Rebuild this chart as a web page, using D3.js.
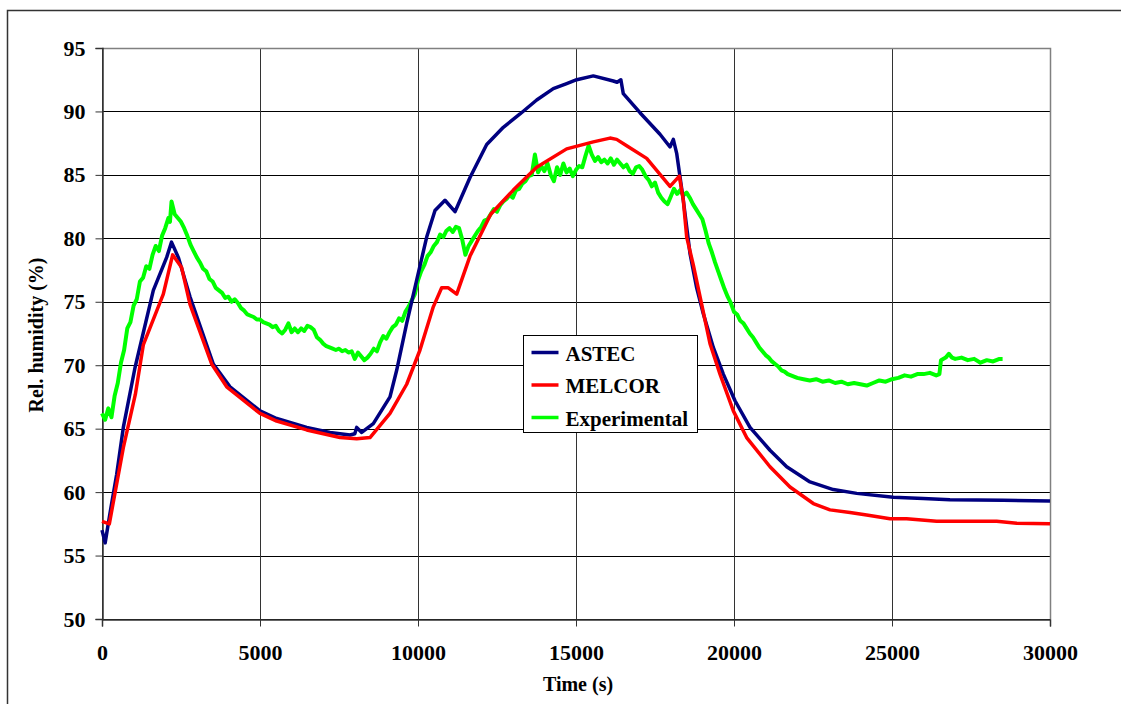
<!DOCTYPE html>
<html>
<head>
<meta charset="utf-8">
<script src="https://cdn.jsdelivr.net/npm/d3@7"></script>
<style>
  body { margin: 0; background: #fff; }
  svg { display: block; font-family: "Liberation Serif", "Times New Roman", serif; font-weight: bold; }
</style>
</head>
<body>
<div id="chart"></div>
<script>
// ASTEC
const astecTime = [0, 100, 250, 465, 675, 1044, 1624, 2046, 2200, 2415, 2785, 3522, 4051, 5000, 5528, 6478, 7215, 7848, 8000, 8060, 8218, 8586, 9114, 9325, 9642, 9958, 10275, 10538, 10854, 11171, 11646, 12174, 12700, 13228, 13756, 14282, 14705, 15022, 15548, 16180, 16300, 16420, 16497, 17025, 17658, 17975, 18080, 18186, 18396, 18608, 18819, 19029, 19345, 19662, 20032, 20506, 21139, 21667, 22405, 23143, 23883, 25041, 25991, 26835, 28522, 30000]
const astecRH = [57.0, 56.0, 58.3, 61.4, 65.1, 69.8, 75.9, 78.5, 79.7, 78.5, 75.4, 70.1, 68.3, 66.4, 65.8, 65.1, 64.7, 64.5, 64.6, 65.1, 64.7, 65.4, 67.5, 69.6, 73.3, 76.7, 80.1, 82.2, 83.0, 82.1, 84.8, 87.4, 88.75, 89.8, 90.9, 91.8, 92.2, 92.5, 92.8, 92.4, 92.3, 92.5, 91.4, 89.9, 88.2, 87.2, 87.8, 86.7, 83.0, 78.8, 76.1, 74.05, 71.4, 69.3, 67.2, 65.1, 63.3, 62.0, 60.8, 60.2, 59.9, 59.6, 59.5, 59.4, 59.35, 59.3]

// MELCOR
const melcorTime = [0, 232, 675, 1055, 1307, 1940, 2236, 2520, 2785, 3470, 3946, 5000, 5528, 6478, 7532, 8060, 8481, 9114, 9642, 10063, 10484, 10749, 10959, 11225, 11646, 12300, 13016, 13756, 14705, 15548, 16076, 16287, 16604, 17237, 17975, 18270, 18396, 18503, 18712, 18977, 19241, 19557, 19979, 20400, 21139, 21772, 22510, 23038, 23671, 24198, 24937, 25465, 26412, 28313, 28946, 30000]
const melcorRH = [57.7, 57.5, 63.5, 67.7, 71.6, 75.6, 78.7, 77.7, 74.8, 70.1, 68.3, 66.2, 65.6, 64.9, 64.3, 64.2, 64.3, 66.2, 68.5, 71.2, 74.6, 76.1, 76.1, 75.6, 78.6, 81.9, 83.8, 85.6, 87.05, 87.6, 87.9, 87.8, 87.3, 86.3, 84.1, 84.9, 83.0, 80.1, 77.9, 74.8, 71.7, 69.3, 66.4, 64.3, 62.0, 60.4, 59.1, 58.6, 58.4, 58.2, 57.9, 57.9, 57.7, 57.7, 57.55, 57.5]

// Experimental
const expTime = [0, 100, 200, 300, 400, 500, 600, 700, 800, 900, 1000, 1100, 1200, 1300, 1400, 1500, 1600, 1700, 1800, 1900, 2000, 2100, 2150, 2200, 2300, 2400, 2500, 2600, 2700, 2800, 2900, 3000, 3100, 3200, 3300, 3400, 3500, 3600, 3700, 3800, 3900, 4000, 4100, 4200, 4300, 4400, 4500, 4600, 4700, 4800, 4900, 5000, 5100, 5200, 5300, 5400, 5500, 5600, 5700, 5800, 5900, 6000, 6100, 6200, 6300, 6400, 6500, 6600, 6700, 6800, 6900, 7000, 7100, 7200, 7300, 7400, 7500, 7600, 7700, 7800, 7900, 8000, 8100, 8200, 8300, 8400, 8500, 8600, 8700, 8800, 8900, 9000, 9100, 9200, 9300, 9400, 9500, 9600, 9700, 9800, 9900, 10000, 10100, 10200, 10300, 10400, 10500, 10600, 10700, 10800, 10900, 11000, 11100, 11200, 11300, 11400, 11500, 11600, 11700, 11800, 11900, 12000, 12100, 12200, 12300, 12400, 12500, 12600, 12700, 12800, 12900, 13000, 13100, 13200, 13300, 13400, 13500, 13600, 13700, 13800, 13900, 14000, 14100, 14200, 14300, 14400, 14500, 14600, 14700, 14800, 14900, 15000, 15100, 15200, 15300, 15400, 15500, 15600, 15700, 15800, 15900, 16000, 16100, 16200, 16300, 16400, 16500, 16600, 16700, 16800, 16900, 17000, 17100, 17200, 17300, 17400, 17500, 17600, 17700, 17800, 17900, 18000, 18100, 18200, 18300, 18400, 18500, 18600, 18700, 18800, 18900, 19000, 19100, 19200, 19300, 19400, 19500, 19600, 19700, 19800, 19900, 20000, 20100, 20200, 20300, 20400, 20500, 20600, 20700, 20800, 20900, 21000, 21100, 21200, 21300, 21400, 21500, 21600, 21700, 21800, 22000, 22200, 22400, 22600, 22800, 23000, 23200, 23400, 23600, 23800, 24000, 24200, 24400, 24600, 24800, 25000, 25200, 25400, 25600, 25800, 26000, 26200, 26400, 26500, 26550, 26700, 26800, 26900, 27000, 27200, 27400, 27600, 27800, 28000, 28200, 28400, 28500]
const expRH = [66.2, 65.7, 66.6, 65.9, 67.6, 68.6, 70.2, 71.2, 72.9, 73.4, 74.7, 75.2, 76.6, 76.9, 77.8, 77.6, 78.7, 79.4, 79.0, 80.2, 80.8, 81.6, 81.3, 82.9, 81.9, 81.6, 81.3, 80.8, 80.2, 79.5, 79.0, 78.5, 78.1, 77.6, 77.4, 76.8, 76.6, 76.1, 75.9, 75.7, 75.3, 75.4, 75.0, 75.2, 74.9, 74.5, 74.3, 74.0, 73.9, 73.8, 73.6, 73.6, 73.4, 73.3, 73.2, 73.0, 73.1, 72.7, 72.5, 72.8, 73.3, 72.6, 72.9, 72.6, 72.9, 72.7, 73.1, 73.0, 72.8, 72.2, 72.0, 71.7, 71.5, 71.4, 71.3, 71.2, 71.3, 71.1, 71.2, 71.0, 71.1, 70.5, 71.0, 70.7, 70.4, 70.6, 70.9, 71.3, 71.1, 71.8, 72.3, 72.1, 72.6, 73.0, 73.2, 73.7, 73.5, 74.2, 74.6, 75.1, 75.6, 76.7, 77.4, 77.9, 78.6, 78.9, 79.4, 79.7, 80.3, 80.1, 80.6, 80.8, 80.5, 80.9, 80.8, 79.9, 78.7, 79.4, 79.8, 80.2, 80.6, 80.9, 81.4, 81.5, 81.9, 82.3, 82.1, 82.6, 82.9, 83.1, 83.4, 83.2, 83.8, 83.9, 84.3, 84.5, 84.9, 85.0, 86.6, 85.2, 85.7, 85.3, 85.9, 85.0, 84.5, 85.6, 85.0, 85.9, 85.2, 85.5, 84.9, 85.4, 85.7, 85.6, 86.5, 87.3, 86.6, 86.1, 86.4, 86.0, 86.2, 85.9, 86.3, 85.8, 86.2, 85.9, 85.6, 85.8, 85.3, 85.1, 85.6, 85.7, 85.4, 84.9, 84.6, 84.1, 84.4, 83.6, 83.2, 82.9, 82.7, 83.3, 83.9, 83.5, 83.8, 83.4, 83.6, 83.2, 82.7, 82.3, 81.9, 81.5, 80.6, 79.6, 78.9, 78.1, 77.4, 76.7, 76.0, 75.4, 74.9, 74.2, 74.0, 73.5, 73.3, 72.9, 72.5, 72.2, 71.8, 71.4, 71.1, 70.8, 70.6, 70.3, 70.1, 69.9, 69.6, 69.5, 69.3, 69.2, 69.0, 68.9, 68.8, 68.9, 68.7, 68.8, 68.6, 68.7, 68.5, 68.6, 68.5, 68.4, 68.6, 68.8, 68.7, 68.9, 69.0, 69.2, 69.1, 69.3, 69.3, 69.4, 69.2, 69.3, 70.4, 70.6, 70.9, 70.6, 70.5, 70.6, 70.4, 70.5, 70.2, 70.4, 70.3, 70.5, 70.5]

const xTicks = [0, 5000, 10000, 15000, 20000, 25000, 30000]
const yTicks = [50, 55, 60, 65, 70, 75, 80, 85, 90, 95]
const seriesNames = ['ASTEC', 'MELCOR', 'Experimental']
const seriesColors = ['#000080', '#ff0000', '#00ff00']

const width = 1121
const height = 704
const plot = {left: 102, right: 1050, top: 48, bottom: 619}

const svg = d3.select('#chart').append('svg')
  .attr('width', width)
  .attr('height', height)

// outer chart frame
svg.append('rect')
  .attr('x', 7.5).attr('y', 10.5)
  .attr('width', 1125).attr('height', 710)
  .attr('fill', 'none').attr('stroke', '#333').attr('stroke-width', 1.5)

const x = d3.scaleLinear().domain([0, 30000]).range([plot.left, plot.right])
const y = d3.scaleLinear().domain([50, 95]).range([plot.bottom, plot.top])

// grid
svg.append('g').selectAll('line').data(yTicks).enter().append('line')
  .attr('x1', plot.left).attr('x2', plot.right)
  .attr('y1', d => Math.round(y(d)) + 0.5).attr('y2', d => Math.round(y(d)) + 0.5)
  .attr('stroke', '#000').attr('stroke-width', 1)
svg.append('g').selectAll('line').data(xTicks).enter().append('line')
  .attr('x1', d => Math.round(x(d)) + 0.5).attr('x2', d => Math.round(x(d)) + 0.5)
  .attr('y1', plot.top).attr('y2', plot.bottom)
  .attr('stroke', '#333').attr('stroke-width', 1)

// plot border (top and right are grey)
svg.append('path')
  .attr('d', `M${plot.left},${plot.top + 0.5}H${plot.right + 0.5}V${plot.bottom}`)
  .attr('fill', 'none').attr('stroke', '#808080').attr('stroke-width', 1.5)

// axes
const yAxis = svg.append('g')
  .attr('transform', `translate(${plot.left + 0.5},0)`)
  .call(d3.axisLeft(y).tickValues(yTicks).tickSize(7).tickPadding(10))
const xAxis = svg.append('g')
  .attr('transform', `translate(0,${plot.bottom + 0.5})`)
  .call(d3.axisBottom(x).tickValues(xTicks).tickSize(7).tickPadding(18).tickFormat(d3.format('d')))
;[xAxis, yAxis].forEach(a => {
  a.select('.domain').attr('stroke', '#333').attr('stroke-width', 1.5)
  a.selectAll('.tick line').attr('stroke', '#333').attr('stroke-width', 1)
  a.selectAll('.tick text')
    .attr('fill', '#000')
    .style('font-family', '"Liberation Serif", serif')
    .style('font-weight', 'bold')
    .style('font-size', '22px')
})

// axis titles
svg.append('text')
  .attr('x', (plot.left + plot.right) / 2 + 2).attr('y', 691)
  .attr('text-anchor', 'middle')
  .style('font-size', '20px')
  .text('Time (s)')
svg.append('text')
  .attr('transform', 'translate(43,335) rotate(-90)')
  .attr('text-anchor', 'middle')
  .style('font-size', '20px')
  .text('Rel. humidity (%)')

// lines
const seriesData = [
  astecTime.map((t, i) => [t, astecRH[i]]),
  melcorTime.map((t, i) => [t, melcorRH[i]]),
  expTime.map((t, i) => [t, expRH[i]])
]
const seriesWidth = [3.5, 3.5, 4]
const line = d3.line().x(d => x(d[0])).y(d => y(d[1]))
const drawOrder = [2, 0, 1]
svg.append('g').selectAll('path').data(drawOrder).enter().append('path')
  .attr('d', i => line(seriesData[i]))
  .attr('fill', 'none')
  .attr('stroke', i => seriesColors[i])
  .attr('stroke-width', i => seriesWidth[i])
  .attr('stroke-linejoin', 'round')

// legend
const legend = svg.append('g').attr('transform', 'translate(523.5,335.5)')
legend.append('rect')
  .attr('width', 174).attr('height', 97)
  .attr('fill', '#fff').attr('stroke', '#000').attr('stroke-width', 1)
const items = legend.selectAll('.item').data(seriesNames).enter().append('g')
  .attr('class', 'item')
  .attr('transform', (d, i) => `translate(0,${17 + i * 32.5})`)
items.append('line')
  .attr('x1', 8).attr('x2', 35)
  .attr('stroke', (d, i) => seriesColors[i]).attr('stroke-width', 3.5)
items.append('text')
  .attr('x', 42).attr('y', 8)
  .style('font-size', '21px')
  .text(d => d)
</script>
</body>
</html>
